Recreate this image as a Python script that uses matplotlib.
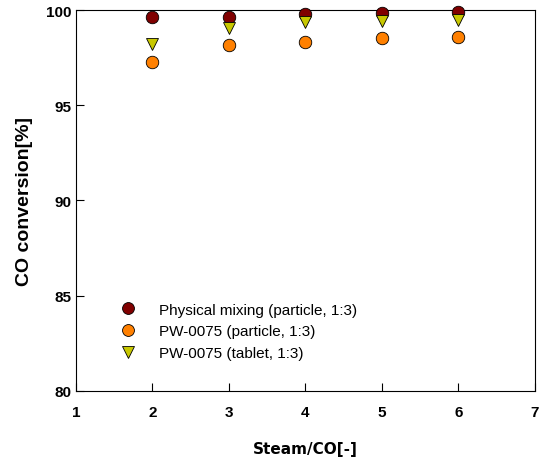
import matplotlib
matplotlib.use("Agg")
import matplotlib.pyplot as plt

plt.rcParams["font.family"] = ["Liberation Sans", "DejaVu Sans"]

steam_co = [2, 3, 4, 5, 6]
physical_mixing = [99.62, 99.65, 99.79, 99.84, 99.88]
pw_particle = [97.25, 98.16, 98.30, 98.55, 98.60]
pw_tablet = [98.20, 99.04, 99.35, 99.42, 99.49]

fig = plt.figure(figsize=(5.43, 4.60), dpi=100)
ax = fig.add_axes([0.14, 0.148, 0.845, 0.828])

ax.plot(steam_co, physical_mixing, "o", ms=9, mfc="#800000", mec="black", mew=0.6,
        ls="none", clip_on=False, zorder=3, label="Physical mixing (particle, 1:3)")
ax.plot(steam_co, pw_particle, "o", ms=9, mfc="#ff8000", mec="black", mew=0.6,
        ls="none", clip_on=False, zorder=3, label="PW-0075 (particle, 1:3)")
ax.plot(steam_co, pw_tablet, "v", ms=9, mfc="#c8c800", mec="black", mew=0.6,
        ls="none", clip_on=False, zorder=3, label="PW-0075 (tablet, 1:3)")

ax.set_xlim(1, 7)
ax.set_ylim(80, 100)
ax.set_xticks(range(1, 8))
ax.set_yticks([80, 85, 90, 95, 100])
ax.tick_params(direction="in", length=6, width=0.8, top=False, right=False,
               labelsize=11)
for lab in ax.get_xticklabels() + ax.get_yticklabels():
    lab.set_fontweight("bold")
ax.tick_params(axis="x", pad=10)

for s in ax.spines.values():
    s.set_linewidth(0.8)

ax.set_xlabel("Steam/CO[-]", family="DejaVu Sans", fontweight="bold", fontsize=11,
              labelpad=16)
ax.set_ylabel("CO conversion[%]", fontweight="bold", fontsize=14, labelpad=9)

ax.legend(loc="lower left", bbox_to_anchor=(0.05, 0.045), frameon=False,
          fontsize=11, handletextpad=1.0, labelspacing=0.5, markerscale=0.95)

fig.savefig("out.png", dpi=100)
